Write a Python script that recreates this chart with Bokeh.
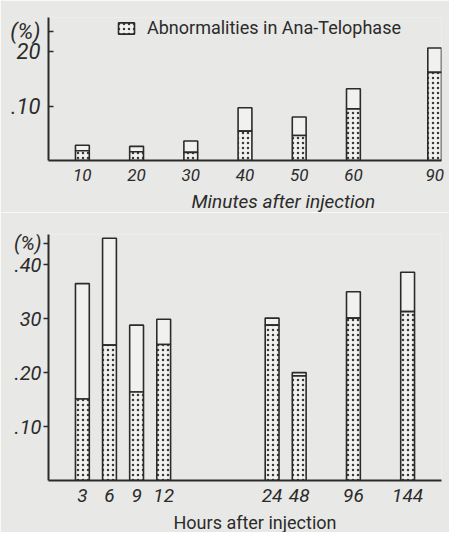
from bokeh.plotting import figure
from bokeh.models import (FactorRange, Range1d, Legend, LegendItem, Title,
                          FixedTicker, ColumnDataSource)
from bokeh.layouts import column
from bokeh.embed import file_html
from bokeh.resources import INLINE

# ---------------- data ----------------
minutes = ["10", "20", "30", "40", "50", "60", "90"]
minutes_total = [2.8, 2.6, 3.6, 9.7, 8.0, 13.2, 20.7]
minutes_ana = [1.8, 1.6, 1.5, 5.4, 4.6, 9.5, 16.2]
minutes_yticks = [10, 20]
minutes_ytick_labels = [".10", "20"]

hours = ["3", "6", "9", "12", "24", "48", "96", "144"]
hours_total = [36.5, 44.9, 28.8, 29.9, 30.1, 20.0, 35.0, 38.6]
hours_ana = [15.1, 25.1, 16.4, 25.2, 28.8, 19.4, 30.1, 31.3]
hours_yticks = [10, 20, 30, 40]
hours_ytick_labels = [".10", ".20", "30", ".40"]

unit_label = "(%)"
legend_label = "Abnormalities in Ana-Telophase"

# ---------------- layout / style ----------------
minutes_slots = [2, 6, 10, 14, 18, 22, 28]      # slot of each category on the axis
hours_slots = [2, 4, 6, 8, 16, 18, 22, 26]
N_SLOTS = 29
BG = "#e8e8e6"
INK = "#2b2b2b"
FONT = "Roboto"


def factors_for(cats, slots):
    pos = dict(zip(slots, cats))
    out, sp = [], 0
    for i in range(N_SLOTS):
        if i in pos:
            out.append(pos[i])
        else:
            sp += 1
            out.append(" " * sp)
    return out


def make_chart(cats, total, ana, slots, yticks, ylabels, unit_y, ymax, frame_h,
               top_border, tick_in, tick_out, ylab_size, ylab_standoff,
               xlab_size, xlab_standoff, title_text, title_offset, title_style,
               title_size, title_standoff):
    p = figure(x_range=FactorRange(*factors_for(cats, slots)),
               y_range=Range1d(0, ymax),
               frame_width=393, frame_height=frame_h,
               min_border_left=48, min_border_right=8, min_border_top=top_border,
               min_border_bottom=0,
               output_backend="svg", toolbar_location=None)
    p.background_fill_color = BG
    p.border_fill_color = BG
    p.outline_line_color = None
    p.xgrid.grid_line_color = None
    p.ygrid.grid_line_color = None

    src = ColumnDataSource(dict(cat=cats, total=total, ana=ana))
    p.vbar(x="cat", bottom="ana", top="total", width=1.02, source=src,
           fill_color="#f1f1ef", line_color=INK, line_width=1.6)
    r_dot = p.vbar(x="cat", top="ana", width=1.02, source=src,
                   fill_color="#f1f1ef", line_color=INK, line_width=1.6,
                   hatch_pattern="dot", hatch_color="#3a3a3a", hatch_scale=5,
                   hatch_weight=1.4)

    xa = p.xaxis[0]
    xa.axis_label = None
    xa.axis_label_standoff = 0
    xa.axis_line_color = INK
    xa.axis_line_width = 2
    xa.major_tick_line_color = None
    xa.minor_tick_line_color = None
    xa.major_tick_out = 0
    xa.major_tick_in = 0
    xa.major_label_standoff = xlab_standoff
    xa.major_label_text_font = FONT
    xa.major_label_text_font_style = "italic"
    xa.major_label_text_font_size = xlab_size
    xa.major_label_text_color = INK

    # y axis: value ticks plus the "(%)" unit label at the axis top
    overrides = {t: l for t, l in zip(yticks, ylabels)}
    overrides[unit_y] = unit_label
    ya = p.yaxis[0]
    ya.axis_label = None
    ya.axis_label_standoff = 0
    ya.ticker = FixedTicker(ticks=list(yticks) + [unit_y])
    ya.major_label_overrides = overrides
    ya.axis_line_color = INK
    ya.axis_line_width = 2
    ya.major_tick_line_color = INK
    ya.major_tick_line_width = 1.5
    ya.major_tick_in = tick_in
    ya.major_tick_out = tick_out
    ya.minor_tick_line_color = None
    ya.major_label_standoff = ylab_standoff
    ya.major_label_text_font = FONT
    ya.major_label_text_font_style = "italic"
    ya.major_label_text_font_size = ylab_size
    ya.major_label_text_color = INK

    t = Title(text=title_text, align="left", offset=title_offset,
              standoff=title_standoff, text_font=FONT,
              text_font_style=title_style, text_font_size=title_size,
              text_color=INK)
    p.add_layout(t, "below")
    return p, r_dot


p1, r1 = make_chart(minutes, minutes_total, minutes_ana, minutes_slots,
                    minutes_yticks, minutes_ytick_labels, 23.7, 26.3, 143, 17,
                    5, 0, "22px", 8, "17px", 4, "Minutes after injection", 143,
                    "italic", "19px", 0)
legend = Legend(items=[LegendItem(label=legend_label, renderers=[r1])],
                location=(68, 122), padding=0, margin=0, spacing=0,
                background_fill_alpha=0, border_line_color=None,
                glyph_width=20, glyph_height=14, label_standoff=11,
                label_height=20, label_text_font=FONT,
                label_text_font_size="18px", label_text_color=INK)
p1.add_layout(legend)

p2, r2 = make_chart(hours, hours_total, hours_ana, hours_slots,
                    hours_yticks, hours_ytick_labels, 44.0, 45.6, 246, 22,
                    0, 5, "20px", 2, "19px", 3, "Hours after injection", 125,
                    "normal", "18px", 0)

layout = column(p1, p2, spacing=0)
open("out.html", "w").write(file_html(layout, INLINE))
